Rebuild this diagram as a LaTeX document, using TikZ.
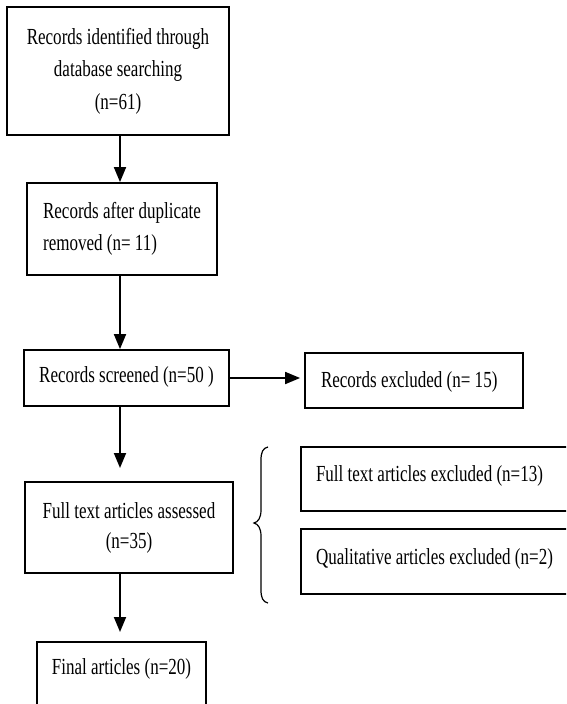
\documentclass[tikz,border=0pt]{standalone}
\usepackage{fontspec}
\setmainfont{Liberation Serif}[FakeStretch=0.74]
\usetikzlibrary{arrows.meta}
\begin{document}
\begin{tikzpicture}[x=1pt,y=-1pt,
  box/.style={draw, rectangle, line width=1.8pt, inner sep=0pt,
    font=\fontsize{23}{32.5}\selectfont},
  arr/.style={line width=1.8pt, -{Triangle[length=15pt,width=12pt]}},
  bracestyle/.style={line width=1.2pt}]
\useasboundingbox (0,0) rectangle (566,704);
\clip (0,0) rectangle (566,704);
\fill[white] (0,0) rectangle (566,704);
\coordinate (ax) at (120,0);
\coordinate (ay) at (0,378);
\coordinate (t3) at (120,468);
\coordinate (t4) at (120,632);

\node[box, minimum width=222pt, minimum height=128pt, align=center] (b1) at (118,71)
  {Records identified through\\database searching\\(n=61)};
\node[box, minimum width=190pt, minimum height=92pt, align=left] (b2) at (122,229)
  {Records after duplicate\\removed (n= 11)};
\node[box, minimum width=205pt, text height=32pt, text depth=24pt] (b3) at (126.5,378)
  {Records screened (n=50 )};
\node[box, minimum width=218pt, text height=34pt, text depth=21pt] (b4) at (414,380.5)
  {\makebox[186pt][l]{Records excluded (n= 15)}};
\node[box, minimum width=208pt, minimum height=91pt, align=center,
  font=\fontsize{23}{30}\selectfont] (b5) at (129,527.5)
  {Full text articles assessed\\(n=35)};
\node[box, minimum width=279pt, text height=34pt, text depth=30pt] (b6) at (440.5,479)
  {\makebox[249pt][l]{Full text articles excluded (n=13)}};
\node[box, minimum width=279pt, text height=35pt, text depth=30pt] (b7) at (440.5,561.5)
  {\makebox[249pt][l]{Qualitative articles excluded (n=2)}};
\node[box, minimum width=169pt, text height=32pt, text depth=46pt] (b8) at (121.5,681)
  {Final articles (n=20)};

\draw[arr] (b1.south -| ax) -- (b2.north -| ax);
\draw[arr] (b2.south -| ax) -- (b3.north -| ax);
\draw[arr] (b3.south -| ax) -- (t3);
\draw[arr] (b5.south -| ax) -- (t4);
\draw[arr, shorten >=4pt] (b3.east |- ay) -- (b4.west |- ay);

\draw[bracestyle] (268,447) .. controls (263,448) and (261,452) .. (261,460)
  -- (261,510) .. controls (261,518) and (258,522) .. (254,523)
  .. controls (258,524) and (261,528) .. (261,536)
  -- (261,590) .. controls (261,598) and (263,602) .. (268,603);
\end{tikzpicture}
\end{document}
